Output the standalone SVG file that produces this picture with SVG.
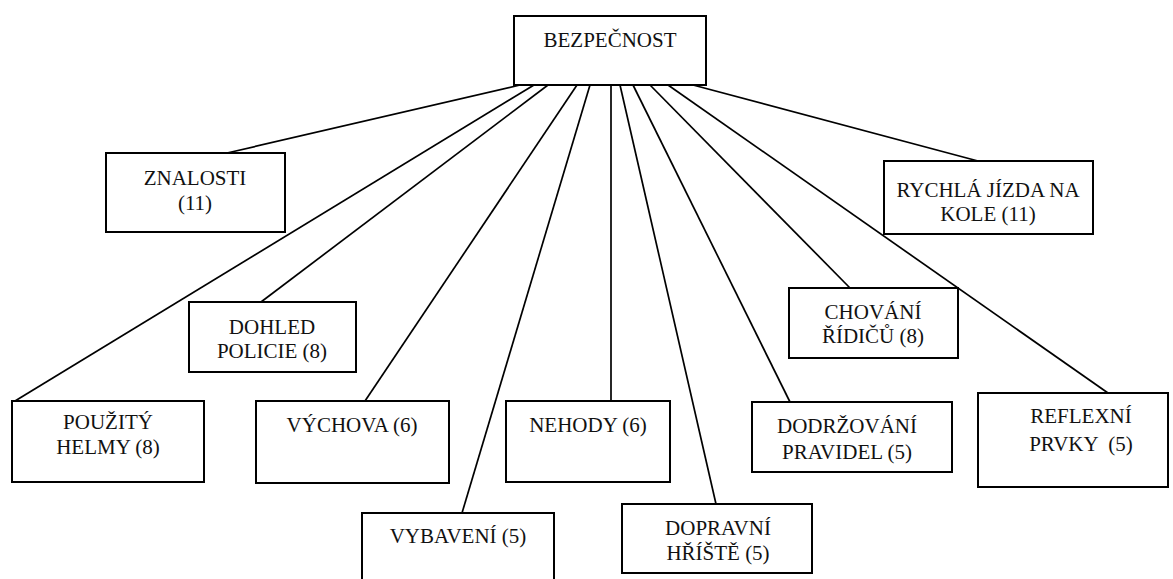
<svg xmlns="http://www.w3.org/2000/svg" width="1173" height="579" viewBox="0 0 1173 579">
  <style>
    .box { fill: #ffffff; stroke: #000000; stroke-width: 2; }
    .lbl { font-family: "Liberation Serif", Tinos, "Times New Roman", Times, "DejaVu Serif", serif; font-size: 21px; fill: #111111; text-anchor: middle; }
    .link { stroke: #000000; stroke-width: 1.7; fill: none; }
  </style>
  <rect x="0" y="0" width="1173" height="579" fill="#ffffff"/>

  <!-- connectors from the root box to each topic -->
  <g id="connectors">
    <line class="link" x1="520" y1="85" x2="227" y2="153"/>
    <line class="link" x1="534" y1="85" x2="15" y2="401"/>
    <line class="link" x1="548" y1="85" x2="261" y2="302"/>
    <line class="link" x1="577" y1="85" x2="365" y2="401"/>
    <line class="link" x1="590" y1="85" x2="462" y2="513"/>
    <line class="link" x1="611" y1="85" x2="611" y2="401"/>
    <line class="link" x1="620" y1="85" x2="716" y2="504"/>
    <line class="link" x1="633" y1="85" x2="790" y2="402"/>
    <line class="link" x1="650" y1="85" x2="850" y2="288"/>
    <line class="link" x1="668" y1="85" x2="1108" y2="393"/>
    <line class="link" x1="693" y1="85" x2="978" y2="161"/>
  </g>

  <g id="bezpecnost">
    <rect class="box" x="514" y="16" width="192" height="69"/>
    <text class="lbl" x="610" y="47">BEZPEČNOST</text>
  </g>

  <g id="znalosti">
    <rect class="box" x="106" y="153" width="179" height="79"/>
    <text class="lbl" x="195" y="185">ZNALOSTI</text>
    <text class="lbl" x="195" y="210">(11)</text>
  </g>

  <g id="rychla-jizda">
    <rect class="box" x="884" y="161" width="209" height="73"/>
    <text class="lbl" x="988" y="197">RYCHLÁ JÍZDA NA</text>
    <text class="lbl" x="988" y="221">KOLE (11)</text>
  </g>

  <g id="dohled-policie">
    <rect class="box" x="189" y="302" width="167" height="70"/>
    <text class="lbl" x="272" y="334">DOHLED</text>
    <text class="lbl" x="272" y="358">POLICIE (8)</text>
  </g>

  <g id="chovani-ridicu">
    <rect class="box" x="789" y="288" width="169" height="70"/>
    <text class="lbl" x="873" y="319">CHOVÁNÍ</text>
    <text class="lbl" x="873" y="343">ŘÍDIČŮ (8)</text>
  </g>

  <g id="pouzity-helmy">
    <rect class="box" x="12" y="401" width="192" height="81"/>
    <text class="lbl" x="108" y="429">POUŽITÝ</text>
    <text class="lbl" x="108" y="454">HELMY (8)</text>
  </g>

  <g id="vychova">
    <rect class="box" x="256" y="401" width="193" height="82"/>
    <text class="lbl" x="352" y="432">VÝCHOVA (6)</text>
  </g>

  <g id="nehody">
    <rect class="box" x="506" y="401" width="164" height="81"/>
    <text class="lbl" x="588" y="432">NEHODY (6)</text>
  </g>

  <g id="dodrzovani-pravidel">
    <rect class="box" x="752" y="402" width="200" height="70"/>
    <text class="lbl" x="847" y="433">DODRŽOVÁNÍ</text>
    <text class="lbl" x="847" y="459">PRAVIDEL (5)</text>
  </g>

  <g id="reflexni-prvky">
    <rect class="box" x="978" y="393" width="190" height="94"/>
    <text class="lbl" x="1081" y="423">REFLEXNÍ</text>
    <text class="lbl" x="1081" y="451" xml:space="preserve">PRVKY  (5)</text>
  </g>

  <g id="vybaveni">
    <rect class="box" x="362" y="513" width="192" height="80"/>
    <text class="lbl" x="458" y="543">VYBAVENÍ (5)</text>
  </g>

  <g id="dopravni-hriste">
    <rect class="box" x="622" y="504" width="190" height="69"/>
    <text class="lbl" x="718" y="535">DOPRAVNÍ</text>
    <text class="lbl" x="718" y="560">HŘÍŠTĚ (5)</text>
  </g>
</svg>
